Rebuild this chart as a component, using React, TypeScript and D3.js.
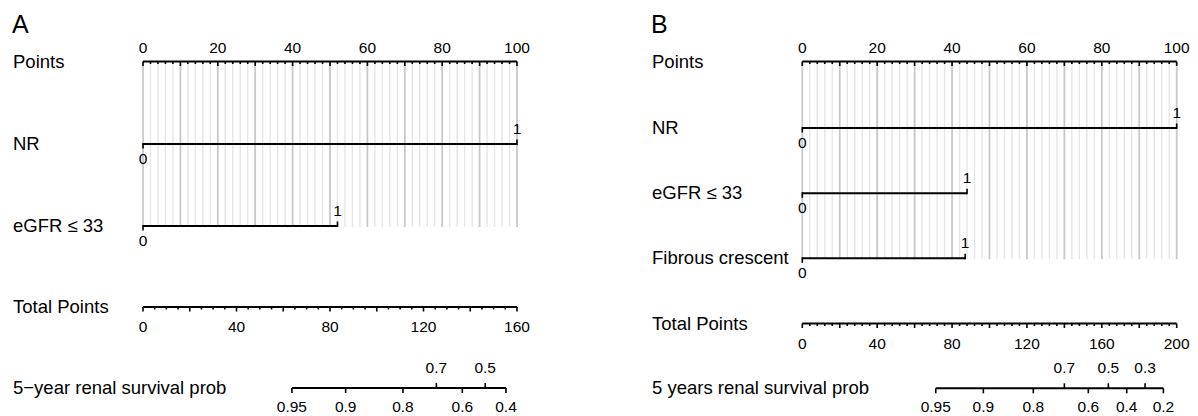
import React from "react";
import * as d3 from "d3";

// panel A
const rowsA = ["NR", "eGFR \u2264 33"];
const rowPointsA = [100, 52];
const totalMaxA = 160;
const probLabelsA = [0.95, 0.9, 0.8, 0.7, 0.6, 0.5, 0.4];
const probAtA = [63.7, 86.7, 111.2, 125.5, 136.6, 146.4, 155.3];
const probAboveA = [0.7, 0.5];

// panel B
const rowsB = ["NR", "eGFR \u2264 33", "Fibrous crescent"];
const rowPointsB = [100, 44, 43.5];
const totalMaxB = 200;
const probLabelsB = [0.95, 0.9, 0.8, 0.7, 0.6, 0.5, 0.4, 0.3, 0.2];
const probAtB = [71.3, 96.7, 123.4, 140, 152.8, 163.5, 173.3, 183.1, 192.9];
const probAboveB = [0.7, 0.5, 0.3];

const FONT = "'Liberation Sans', Arial, Helvetica, sans-serif";
const LW = 2;
const TW = 1.6;
const LABEL = 18.5;
const TICK = 15.5;

type PanelProps = {
  letter: string;
  labelX: number;
  x0: number;
  x1: number;
  rows: string[];
  rowPoints: number[];
  rowY: number[];
  totalMax: number;
  totalMinor: number;
  totalY: number;
  probLabel: string;
  probLabels: number[];
  probAt: number[];
  probAbove: number[];
  probY: number;
};

const Panel = (p: PanelProps) => {
  const x = d3.scaleLinear().domain([0, 100]).range([p.x0, p.x1]);
  const xt = d3.scaleLinear().domain([0, p.totalMax]).range([p.x0, p.x1]);
  const pointsY = 61.5;
  const gridBottom = p.rowY[p.rowY.length - 1] + 1;

  const minor = d3.range(0, 101, 2);
  const major = d3.range(0, 101, 10);
  const labels = d3.range(0, 101, 20);

  const tMinor = d3.range(0, p.totalMax + 0.01, p.totalMinor);
  const tLabels = d3.range(0, p.totalMax + 0.01, 40);

  const probX = p.probAt.map((v) => xt(v));

  return (
    <g fontFamily={FONT} fill="#000">
      <text x={p.labelX - 1} y={33} fontSize={25}>{p.letter}</text>

      {/* grid */}
      {minor.filter((v) => v % 10 !== 0).map((v) => (
        <line key={"gm" + v} x1={x(v)} x2={x(v)} y1={pointsY} y2={gridBottom} stroke="#e6e6e6" strokeWidth={1.4} />
      ))}
      {major.map((v) => (
        <line key={"gM" + v} x1={x(v)} x2={x(v)} y1={pointsY} y2={gridBottom} stroke="#c8c8c8" strokeWidth={1.8} />
      ))}

      {/* points axis */}
      <text x={p.labelX} y={pointsY + 6.5} fontSize={LABEL}>Points</text>
      <line x1={p.x0} x2={p.x1} y1={pointsY} y2={pointsY} stroke="#000" strokeWidth={LW} />
      {minor.map((v) => (
        <line key={"pt" + v} x1={x(v)} x2={x(v)} y1={pointsY} y2={pointsY + (v % 10 === 0 ? 4.5 : 2.5)} stroke="#000" strokeWidth={TW} />
      ))}
      {labels.map((v) => (
        <text key={"pl" + v} x={x(v)} y={pointsY - 8.5} fontSize={TICK} textAnchor="middle">{v}</text>
      ))}

      {/* predictor rows */}
      {p.rows.map((name, i) => {
        const y = p.rowY[i];
        const xe = x(p.rowPoints[i]);
        return (
          <g key={name}>
            <text x={p.labelX} y={y + 6} fontSize={LABEL}>{name}</text>
            <line x1={p.x0} x2={xe} y1={y} y2={y} stroke="#000" strokeWidth={LW} />
            <line x1={p.x0} x2={p.x0} y1={y - 1} y2={y + 4.5} stroke="#000" strokeWidth={TW} />
            <line x1={xe} x2={xe} y1={y + 1} y2={y - 4.5} stroke="#000" strokeWidth={TW} />
            <text x={p.x0} y={y + 19.5} fontSize={TICK} textAnchor="middle">0</text>
            <text x={xe} y={y - 10} fontSize={TICK} textAnchor="middle">1</text>
          </g>
        );
      })}

      {/* total points */}
      <text x={p.labelX} y={p.totalY + 6} fontSize={LABEL}>Total Points</text>
      <line x1={p.x0} x2={p.x1} y1={p.totalY} y2={p.totalY} stroke="#000" strokeWidth={LW} />
      {tMinor.map((v) => (
        <line key={"tt" + v} x1={xt(v)} x2={xt(v)} y1={p.totalY} y2={p.totalY + (v % 20 === 0 ? 4.5 : 2.5)} stroke="#000" strokeWidth={TW} />
      ))}
      {tLabels.map((v) => (
        <text key={"tl" + v} x={xt(v)} y={p.totalY + 25} fontSize={TICK} textAnchor="middle">{v}</text>
      ))}

      {/* survival probability */}
      <text x={p.labelX} y={p.probY + 6} fontSize={LABEL}>{p.probLabel}</text>
      <line x1={probX[0]} x2={probX[probX.length - 1]} y1={p.probY} y2={p.probY} stroke="#000" strokeWidth={LW} />
      {p.probLabels.map((v, i) => {
        const up = p.probAbove.includes(v);
        const xx = probX[i];
        return (
          <g key={"pr" + v}>
            <line x1={xx} x2={xx} y1={p.probY} y2={p.probY + (up ? -5 : 5)} stroke="#000" strokeWidth={TW} />
            <text x={xx} y={up ? p.probY - 15 : p.probY + 24} fontSize={TICK} textAnchor="middle">{String(v)}</text>
          </g>
        );
      })}
    </g>
  );
};

export default function App() {
  return (
    <svg width={1198} height={416} style={{ position: "absolute", left: 0, top: 0, background: "#fff" }}>
      <Panel
        letter="A"
        labelX={13}
        x0={143}
        x1={517}
        rows={rowsA}
        rowPoints={rowPointsA}
        rowY={[144, 226]}
        totalMax={totalMaxA}
        totalMinor={5}
        totalY={307}
        probLabel={"5\u2212year renal survival prob"}
        probLabels={probLabelsA}
        probAt={probAtA}
        probAbove={probAboveA}
        probY={388}
      />
      <Panel
        letter="B"
        labelX={652}
        x0={802.3}
        x1={1176.7}
        rows={rowsB}
        rowPoints={rowPointsB}
        rowY={[128, 193.3, 258.3]}
        totalMax={totalMaxB}
        totalMinor={4}
        totalY={323.5}
        probLabel="5 years renal survival prob"
        probLabels={probLabelsB}
        probAt={probAtB}
        probAbove={probAboveB}
        probY={388.3}
      />
    </svg>
  );
}
